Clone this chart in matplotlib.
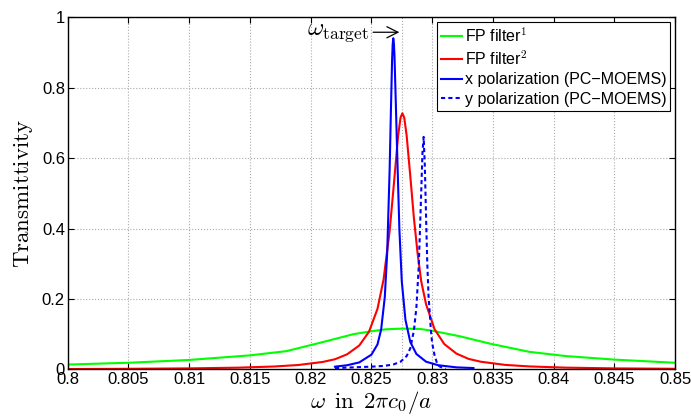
import matplotlib
matplotlib.use("Agg")
import matplotlib.pyplot as plt
from matplotlib.ticker import FormatStrFormatter, MultipleLocator

plt.rcParams['font.family'] = ['Liberation Sans', 'DejaVu Sans']
plt.rcParams['mathtext.fontset'] = 'cm'

# ---- data ----
fp1_x = [0.800, 0.805, 0.810, 0.815, 0.818, 0.8208, 0.8235, 0.8249, 0.8262, 0.8276,
         0.829, 0.830, 0.8323, 0.8348, 0.838, 0.841, 0.845, 0.850]
fp1_y = [0.014, 0.019, 0.027, 0.040, 0.052, 0.076, 0.100, 0.108, 0.114, 0.116,
         0.115, 0.110, 0.094, 0.073, 0.050, 0.038, 0.028, 0.019]

fp2_x = [0.800, 0.805, 0.810, 0.814, 0.817, 0.819, 0.821, 0.822, 0.823, 0.824,
         0.8248, 0.8255, 0.826, 0.8265, 0.8268, 0.8272, 0.8274, 0.82755, 0.8277, 0.8279,
         0.8282, 0.8285, 0.8288, 0.8291, 0.8295,
         0.8302, 0.831, 0.832, 0.833, 0.834, 0.836, 0.838, 0.841, 0.845, 0.850]
fp2_y = [0.0012, 0.0019, 0.0031, 0.0051, 0.0084, 0.0127, 0.0214, 0.029, 0.043, 0.068,
         0.107, 0.172, 0.255, 0.393, 0.507, 0.664, 0.715, 0.727, 0.715, 0.664,
         0.549, 0.429, 0.330, 0.250, 0.185,
         0.114, 0.072, 0.045, 0.030, 0.022, 0.013, 0.0086, 0.0052, 0.0031, 0.0019]

xpol_x = [0.8220, 0.8230, 0.8240, 0.8250, 0.8255, 0.8258, 0.8261, 0.8263, 0.8265, 0.8266,
          0.8267, 0.82675, 0.8268, 0.82685, 0.8269, 0.8270, 0.8271, 0.8273, 0.8275, 0.8278,
          0.8282, 0.8287, 0.8295, 0.8305, 0.8320, 0.8334]
xpol_y = [0.008, 0.012, 0.020, 0.042, 0.071, 0.113, 0.205, 0.332, 0.567, 0.727,
          0.876, 0.922, 0.940, 0.925, 0.889, 0.766, 0.640, 0.400, 0.250, 0.141,
          0.078, 0.044, 0.022, 0.012, 0.006, 0.004]

ypol_x = [0.8220, 0.8235, 0.8250, 0.8260, 0.8268, 0.8274, 0.8279, 0.8282, 0.8285, 0.8287,
          0.8289, 0.8291, 0.8292, 0.8293, 0.8294, 0.8295, 0.8296, 0.8297, 0.8299, 0.8300,
          0.8302, 0.8304, 0.8306, 0.8309, 0.8311]
ypol_y = [0.004, 0.006, 0.008, 0.010, 0.014, 0.022, 0.038, 0.060, 0.111, 0.175,
          0.295, 0.504, 0.613, 0.660, 0.575, 0.430, 0.300, 0.210, 0.110, 0.075,
          0.040, 0.018, 0.009, 0.004, 0.002]

omega_target = 0.8275
labels = [r'FP filter$^{\mathsf{1}}$', r'FP filter$^{\mathsf{2}}$',
          'x polarization (PC\u2212MOEMS)', 'y polarization (PC\u2212MOEMS)']

fig = plt.figure(figsize=(6.91, 4.17), dpi=100)
ax = fig.add_axes([0.098, 0.114, 0.879, 0.845])

ax.plot(fp1_x, fp1_y, color=(0, 1, 0), lw=1.5, label=labels[0])
ax.plot(fp2_x, fp2_y, color=(1, 0, 0), lw=1.5, label=labels[1])
ax.plot(xpol_x, xpol_y, color=(0, 0, 1), lw=1.5, label=labels[2])
ax.plot(ypol_x, ypol_y, color=(0, 0, 1), lw=1.5, ls=(0, (2, 1.5)), label=labels[3])

ax.axvline(omega_target, color='#aaaaaa', ls=':', lw=0.8, zorder=0)

ax.set_xlim(0.8, 0.85)
ax.set_ylim(0, 1)
ax.xaxis.set_major_locator(MultipleLocator(0.005))
ax.yaxis.set_major_locator(MultipleLocator(0.2))
ax.xaxis.set_major_formatter(FormatStrFormatter('%g'))
ax.yaxis.set_major_formatter(FormatStrFormatter('%g'))
ax.grid(True, ls=':', color='#aaaaaa', lw=0.8)
ax.set_axisbelow(True)
ax.tick_params(direction='in', top=True, right=True, labelsize=12, length=4, pad=2)
for s in ax.spines.values():
    s.set_linewidth(1.0)

ax.set_xlabel(r'$\omega\enspace\mathrm{in}\enspace 2\pi c_0/a$', fontsize=16.5, labelpad=1)
ax.set_ylabel(r'$\mathrm{Transmittivity}$', fontsize=16.5, labelpad=5)

ax.annotate(r'$\omega_{\mathrm{target}}$', xy=(omega_target - 0.0002, 0.957),
            xytext=(0.8248, 0.957), fontsize=18, ha='right', va='center',
            arrowprops=dict(arrowstyle='->', color='black', lw=0.9,
                            shrinkA=1, shrinkB=0, mutation_scale=20))

leg = ax.legend(loc='upper right', fontsize=11.5, frameon=True, fancybox=False,
                edgecolor='black', framealpha=1, handlelength=1.3,
                handletextpad=0.2, labelspacing=0.3, borderpad=0.25,
                borderaxespad=0.3)
leg.get_frame().set_linewidth(0.8)

fig.savefig('out.png', dpi=100)
